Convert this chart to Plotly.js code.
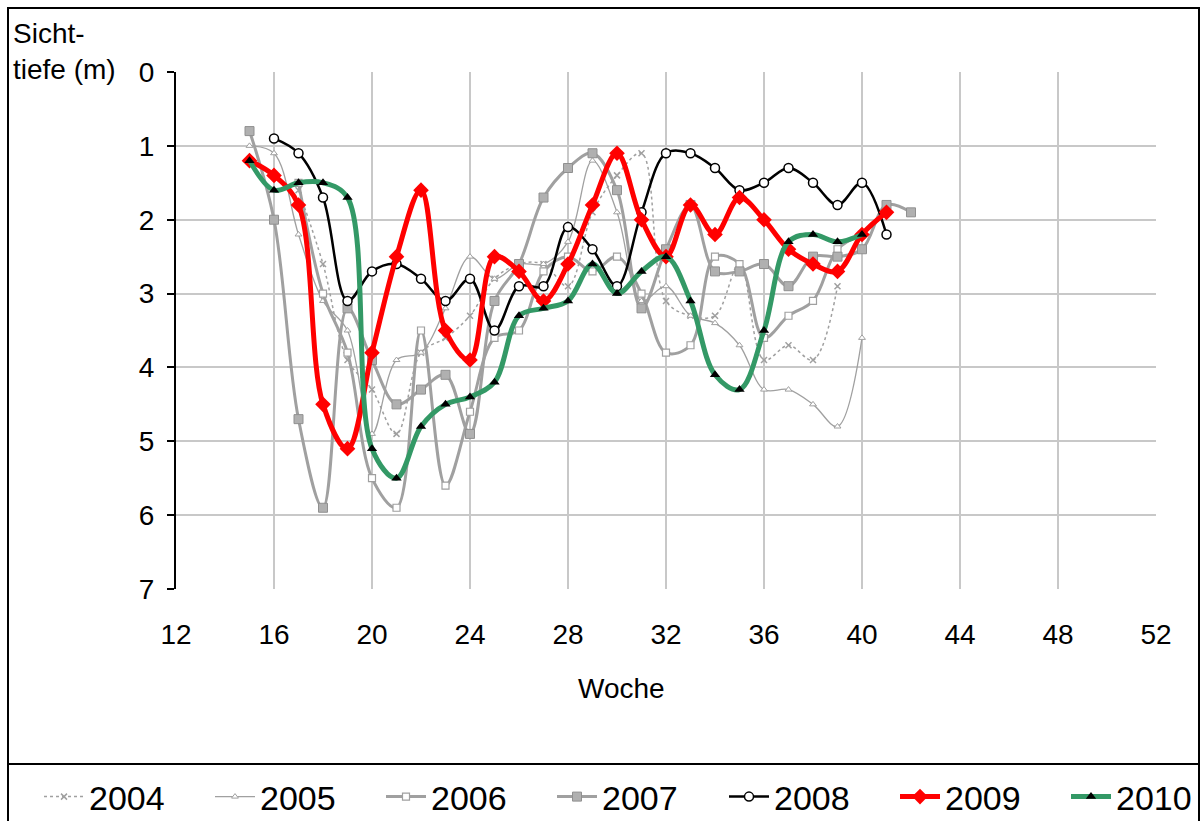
<!DOCTYPE html>
<html>
<head>
<meta charset="utf-8">
<script src="https://cdn.plot.ly/plotly-3.0.1.min.js"></script>
<style>html,body{margin:0;padding:0;background:#fff;}#chart{width:1202px;height:821px;}</style>
</head>
<body>
<div id="chart"></div>
<script>
// ---- Data (Sichttiefe in m by Woche) ----
const weeks2004 = [17,18,19,20,21,22,23,24,25,26,27,28,29,30,31,32,33,34,35,36,37,38,39];
const vals2004  = [1.6,2.6,3.9,4.3,4.9,3.8,3.6,3.3,2.8,2.6,2.6,2.9,1.9,1.4,1.1,3.1,3.3,3.3,2.6,3.9,3.7,3.9,2.9];

const weeks2005 = [15,16,17,18,19,20,21,22,23,24,25,26,27,28,29,30,31,32,33,34,35,36,37,38,39,40];
const vals2005  = [1.0,1.1,2.2,3.1,3.5,4.9,3.9,3.8,3.2,2.5,2.8,2.6,2.6,2.3,1.2,1.9,3.1,2.9,3.3,3.4,3.7,4.3,4.3,4.5,4.8,3.6];

const weeks2006 = [17,18,19,20,21,22,23,24,25,26,27,28,29,30,31,32,33,34,35,36,37,38,39,40];
const vals2006  = [1.5,3.0,3.8,5.5,5.9,3.5,5.6,4.6,3.6,3.5,2.7,2.5,2.7,2.5,3.0,3.8,3.7,2.5,2.6,3.6,3.3,3.1,2.4,2.2];

const weeks2007 = [15,16,17,18,19,20,21,22,23,24,25,26,27,28,29,30,31,32,33,34,35,36,37,38,39,40,41,42];
const vals2007  = [0.8,2.0,4.7,5.9,3.2,3.9,4.5,4.3,4.1,4.9,3.1,2.6,1.7,1.3,1.1,1.6,3.2,2.4,1.8,2.7,2.7,2.6,2.9,2.5,2.5,2.4,1.8,1.9];

const weeks2008 = [16,17,18,19,20,21,22,23,24,25,26,27,28,29,30,31,32,33,34,35,36,37,38,39,40,41];
const vals2008  = [0.9,1.1,1.7,3.1,2.7,2.6,2.8,3.1,2.8,3.5,2.9,2.9,2.1,2.4,2.9,1.9,1.1,1.1,1.3,1.6,1.5,1.3,1.5,1.8,1.5,2.2];

const weeks2009 = [15,16,17,18,19,20,21,22,23,24,25,26,27,28,29,30,31,32,33,34,35,36,37,38,39,40,41];
const vals2009  = [1.2,1.4,1.8,4.5,5.1,3.8,2.5,1.6,3.5,3.9,2.5,2.7,3.1,2.6,1.8,1.1,2.0,2.5,1.8,2.2,1.7,2.0,2.4,2.6,2.7,2.2,1.9];

const weeks2010 = [15,16,17,18,19,20,21,22,23,24,25,26,27,28,29,30,31,32,33,34,35,36,37,38,39,40];
const vals2010  = [1.2,1.6,1.5,1.5,1.7,5.1,5.5,4.8,4.5,4.4,4.2,3.3,3.2,3.1,2.6,3.0,2.7,2.5,3.1,4.1,4.3,3.5,2.3,2.2,2.3,2.2];

const seriesNames = ['2004','2005','2006','2007','2008','2009','2010'];
const xTickVals = [12,16,20,24,28,32,36,40,44,48,52];
const yTickVals = [0,1,2,3,4,5,6,7];

const FONT = 'Arial, "Liberation Sans", sans-serif';
const GRAY = '#A0A0A0';

function tr(name, x, y, line, marker, leg) {
  return {type:'scatter', mode:'lines+markers', name:name, x:x, y:y, legend:leg,
          line:Object.assign({shape:'spline', smoothing:1}, line), marker:marker, cliponaxis:false};
}

const traces = [
  tr(seriesNames[0], weeks2004, vals2004, {color:GRAY, width:1.5, dash:'dot'},
     {symbol:'x-thin-open', size:6, color:GRAY, line:{color:GRAY, width:1.5}}, 'legend'),
  tr(seriesNames[1], weeks2005, vals2005, {color:GRAY, width:1.3},
     {symbol:'triangle-up', size:6, color:'#fff', line:{color:GRAY, width:1}}, 'legend'),
  tr(seriesNames[2], weeks2006, vals2006, {color:GRAY, width:3},
     {symbol:'square', size:7, color:'#fff', line:{color:GRAY, width:1.2}}, 'legend'),
  tr(seriesNames[3], weeks2007, vals2007, {color:GRAY, width:3},
     {symbol:'square', size:9, color:'#B0B0B0', line:{color:'#909090', width:1}}, 'legend'),
  tr(seriesNames[4], weeks2008, vals2008, {color:'#000', width:2.5},
     {symbol:'circle', size:9, color:'#fff', line:{color:'#000', width:1.5}}, 'legend2'),
  tr(seriesNames[5], weeks2009, vals2009, {color:'#FF0000', width:5},
     {symbol:'diamond', size:12, color:'#FF0000', line:{color:'#FF0000', width:0}}, 'legend2'),
  tr(seriesNames[6], weeks2010, vals2010, {color:'#339966', width:5},
     {symbol:'triangle-up', size:9, color:'#000', line:{color:'#000', width:0}}, 'legend3')
];

// plot area in pixels: x 176..1156, y 72..589
const PL=176, PR=1156, PT=72, PB=589;
const px = v => (v-PL)/(PR-PL);
const py = v => (PB-v)/(PB-PT);

const legBase = {orientation:'h', xanchor:'left', y:py(797), yanchor:'middle',
          font:{family:FONT, size:34, color:'#000'}, entrywidthmode:'pixels',
          tracegroupgap:0, itemwidth:40, bgcolor:'rgba(0,0,0,0)', traceorder:'normal', borderwidth:0};

const layout = {
  width:1202, height:821,
  margin:{l:PL, r:1202-PR, t:PT, b:821-PB, pad:0, autoexpand:false},
  paper_bgcolor:'#fff', plot_bgcolor:'#fff',
  font:{family:FONT, size:28, color:'#000'},
  showlegend:true,
  legend:Object.assign({}, legBase, {x:px(39), entrywidth:116}),
  legend2:Object.assign({}, legBase, {x:px(724), entrywidth:116}),
  legend3:Object.assign({}, legBase, {x:px(1066), entrywidth:80}),
  xaxis:{range:[12,52], tickvals:xTickVals, ticktext:xTickVals.map(String),
         showgrid:true, gridcolor:'#C8C8C8', gridwidth:2, zeroline:false,
         showline:false, ticks:'outside', ticklen:20, tickcolor:'rgba(0,0,0,0)',
         tickfont:{family:FONT, size:28}, fixedrange:true, automargin:false},
  yaxis:{range:[7,0], tickvals:yTickVals, ticktext:yTickVals.map(String),
         showgrid:true, gridcolor:'#C8C8C8', gridwidth:2, zeroline:false,
         showline:true, linecolor:'#000', linewidth:2, ticks:'outside', ticklen:7,
         tickcolor:'#000', tickwidth:2, ticklabelstandoff:7,
         tickfont:{family:FONT, size:28}, fixedrange:true, automargin:false},
  annotations:[
    {text:'Sicht-<br>tiefe (m)', xref:'paper', yref:'paper', x:px(11), y:py(16),
     xanchor:'left', yanchor:'top', align:'left', showarrow:false,
     font:{family:FONT, size:28, color:'#000'}},
    {text:'Woche', xref:'paper', yref:'paper', x:px(621), y:py(688),
     xanchor:'center', yanchor:'middle', showarrow:false,
     font:{family:FONT, size:28, color:'#000'}}
  ],
  shapes:[
    {type:'rect', xref:'paper', yref:'paper', x0:px(8), x1:px(1199), y0:py(8), y1:py(824),
     line:{color:'#000', width:2}, fillcolor:'rgba(0,0,0,0)', layer:'above'},
    {type:'line', xref:'paper', yref:'paper', x0:px(8), x1:px(1199), y0:py(764), y1:py(764),
     line:{color:'#000', width:2}, layer:'above'}
  ]
};

Plotly.newPlot('chart', traces, layout, {staticPlot:true, displayModeBar:false});
</script>
</body>
</html>
